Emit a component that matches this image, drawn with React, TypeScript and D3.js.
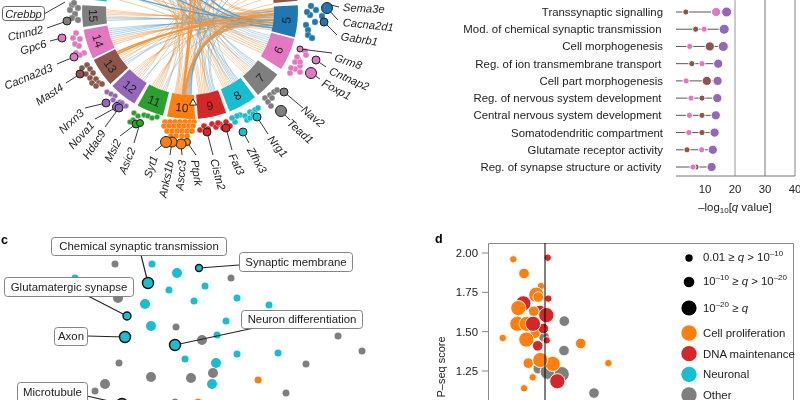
import * as d3 from "d3"

const FONT = "'Liberation Sans', Arial, sans-serif"
const INK = "#222"
const ORANGE = "#ff7f0e"
const RED = "#d62728"
const TEAL = "#17becf"
const GRAY = "#7f7f7f"
const PINK = "#e377c2"
const BROWN = "#8c564b"
const PURPLE = "#9467bd"
const GREEN = "#2ca02c"
const BLUE = "#1f77b4"
const LABEL_SIZE = 11.4

// panel b: modules, angle in degrees measured from straight down
const moduleIds = ["", "15", "14", "13", "12", "11", "10", "9", "8", "7", "6", "5", " "]
const moduleColors = [TEAL, GRAY, PINK, BROWN, PURPLE, GREEN, ORANGE, RED, TEAL, GRAY, PINK, BLUE, BROWN]
const moduleFrom = [-113, -93, -80, -63, -46, -29, -12.3, 4.2, 21.5, 39, 57.5, 76, 95.5]
const moduleTo = [-96.5, -81.5, -64, -47.5, -31, -14.5, 2.7, 19.5, 37, 54, 75, 93, 110]

// links: module, colour kind, stroke width, target angles
const linkBundles: [string, string, number, number[]][] = [
  ["15", "o", 0.55, [80, 84, 88, 91, 78]],
  ["15", "b", 0.55, [82, 86, 90]],
  ["14", "b", 0.6, [79, 83, 87, 90, 85]],
  ["14", "o", 0.7, [77, 81, 88, 92]],
  ["13", "o", 1.6, [84, 88]],
  ["13", "o", 0.55, [79, 120, 90, 150]],
  ["13", "b", 0.5, [82, 86, 130]],
  ["12", "o", 0.6, [80, 100, 125, 140, 160, 175]],
  ["12", "b", 0.5, [88, 150]],
  ["11", "o", 0.6, [105, 130, 150, 165, 178, 195]],
  ["11", "b", 0.5, [84, 140, 185]],
  ["10", "o", 0.6, [-150, -165, 215, 195, 160, 135, 110, 92]],
  ["10", "o", 1.7, [178, 170, 82, 88]],
  ["10", "b", 0.8, [80, 84, 87, 90, 120, 150]],
  ["9", "o", 0.6, [-130, -150, 200, 165, 145, 95, 170]],
  ["9", "b", 0.6, [210, 185, 175, 130, 86]],
  ["8", "o", 0.55, [-125, -145, -165, 190, 160, 205]],
  ["8", "b", 0.6, [-140, -170, 200, 180, 150, 215]],
  ["7", "o", 0.55, [-115, -135, -155, -175, 200]],
  ["7", "b", 0.55, [-125, -145, -165, 195, 215]],
  ["6", "o", 0.7, [-100, -112, -130, -150, 210]],
  ["6", "b", 0.55, [-105, -120, -140, -160, 195]],
  ["5", "b", 1.4, [-125, -150, 190, -105]],
  ["5", "o", 0.8, [-110, -135, 170, 150]],
]

// gene dots around each module, read as picture positions
const geneDotGroups: [string, number, [number, number][]][] = [
  [GRAY, 3.2, [[72, 5], [70, 10], [78, 8], [75, 14], [72, 18], [78, 20], [74, 3]]],
  [PINK, 3, [[76, 33], [73, 38], [80, 39], [75, 44], [79, 46], [84, 53], [80, 55], [76, 53]]],
  [BROWN, 3, [[87, 65], [82, 68], [90, 69], [86, 74], [93, 73], [90, 78], [96, 79], [92, 83], [99, 83], [96, 86], [102, 84]]],
  [PURPLE, 2.8, [[107, 92], [111, 94], [115, 96], [113, 100], [118, 103], [120, 102], [123, 106], [126, 106], [122, 103]]],
  [GREEN, 2.8, [[134, 113], [138, 116], [144, 115], [148, 116], [152, 118], [157, 117], [133, 120], [130, 122]]],
  [ORANGE, 3, [
    [165, 122], [170, 122], [175, 122], [180, 122], [185, 122], [190, 122], [194, 122],
    [164, 126], [169, 126], [174, 126], [179, 126], [184, 126], [189, 126], [193, 126],
    [167, 131], [172, 131], [177, 131], [182, 131], [187, 131], [192, 131],
    [171, 136], [176, 136], [182, 136], [187, 136],
  ]],
  [RED, 3, [[200, 130], [204, 126], [208, 129], [212, 124], [216, 127], [220, 124], [223, 128], [227, 124], [230, 126], [226, 122], [218, 123]]],
  [TEAL, 3, [[235, 122], [240, 115], [245, 116], [250, 112], [255, 110], [258, 108], [247, 120], [237, 116], [250, 118], [253, 114], [232, 118]]],
  [GRAY, 3, [[265, 98], [270, 95], [274, 92], [268, 102], [272, 98], [277, 90], [271, 106]]],
  [PINK, 3, [[298, 59], [305, 51], [306, 55], [297, 57], [295, 62], [300, 66], [295, 69], [290, 73], [300, 72], [291, 68], [300, 62]]],
  [BLUE, 3.2, [[310, 15], [316, 10], [306, 25], [308, 30], [315, 22], [308, 35], [312, 38], [311, 6], [307, 12], [322, 16]]],
]

// named genes: label, colour, dot x, dot y, dot radius, leader end x, y, text x, y, rotation
const namedGenes: [string, string, number, number, number, number, number, number, number, number][] = [
  ["Ctnnd2", GRAY, 67, 21, 4, 47, 28, 43, 29, -13],
  ["Gpc6", PINK, 62, 38, 4, 50, 41, 46, 43, -17],
  ["Cacna2d3", PINK, 74, 57, 4, 57, 64, 52, 67, -22],
  ["Mast4", BROWN, 80, 74, 4, 66, 83, 62, 86, -33],
  ["Nrxn3", PURPLE, 106, 103, 4, 85, 108, 82, 111, -43],
  ["Nova1", PURPLE, 117, 107, 4.5, 95, 119, 92, 123, -48],
  ["Hdac9", PURPLE, 119, 108, 4, 105, 127, 103, 131, -56],
  ["Msi2", GREEN, 136, 124, 4, 120, 136, 118, 140, -63],
  ["Asic2", GREEN, 140, 123, 3.5, 134, 143, 132, 148, -68],
  ["Ptprk", ORANGE, 187, 142, 3.5, 196, 155, 195, 160, 82],
  ["Ascc3", ORANGE, 181, 144, 5, 182, 155, 182, 160, -85],
  ["Anks1b", ORANGE, 172, 142, 5, 170, 155, 170, 161, -78],
  ["Syt1", ORANGE, 166, 142, 5.5, 155, 151, 154, 156, -72],
  ["Cistn2", RED, 207, 132, 4, 213, 155, 214, 159, 75],
  ["Fat3", RED, 226, 128, 4, 232, 150, 232, 154, 65],
  ["Zfhx3", TEAL, 243, 132, 4, 249, 143, 250, 148, 60],
  ["Nrg1", TEAL, 257, 117, 4, 268, 134, 270, 137, 50],
  ["Tead1", GRAY, 281, 111, 5.5, 290, 120, 289, 121, 42],
  ["Nav2", GRAY, 284, 92, 4, 303, 108, 303, 108, 40],
  ["Foxp1", PINK, 311, 73, 5.5, 320, 79, 323, 82, 28],
  ["Cntnap2", PINK, 316, 60, 4, 326, 67, 330, 70, 24],
  ["Grm8", PINK, 300, 49, 3, 332, 53, 335, 57, 18],
  ["Gabrb1", BLUE, 324, 22, 4, 337, 35, 341, 36, 9],
  ["Cacna2d1", BLUE, 327, 8, 5.5, 338, 20, 343, 22, 6],
]

// panel top right: enrichment rows
const termLabels = [
  "Transsynaptic signalling",
  "Mod. of chemical synaptic transmission",
  "Cell morphogenesis",
  "Reg. of ion transmembrane transport",
  "Cell part morphogenesis",
  "Reg. of nervous system development",
  "Central nervous system development",
  "Somatodendritic compartment",
  "Glutamate receptor activity",
  "Reg. of synapse structure or activity",
]
const brownValues = [3.6, 6.9, 11.6, 5.6, 10.6, 9, 9, 9, 4, 7]
const pinkValues = [13.7, 9.7, 4.9, 9, 3.7, 5.3, 4.8, 4.6, 8.9, 6]
const purpleValues = [17.2, 16.4, 16.1, 14.4, 14.2, 14.1, 13.6, 13.2, 12.6, 12.2]
const qTicks = [10, 20, 30, 40]

// panel c: term map
const mapGray = [[115, 264, 0], [118, 298, 1], [176, 327, 0], [119, 363, 0], [151, 377, 1], [191, 378, 1], [105, 384, 1], [95, 391, 0], [231, 278, 0], [338, 336, 0], [362, 351, 0], [306, 364, 0], [286, 393, 0], [213, 373, 1], [202, 340, 1], [175, 402, 0], [73, 402, 0]]
const mapTeal = [[152, 264, 0], [177, 273, 1], [169, 290, 0], [194, 301, 0], [145, 304, 1], [151, 326, 1], [75, 278, 0], [185, 359, 0], [205, 286, 0], [237, 298, 0], [269, 305, 0], [226, 321, 0], [217, 335, 0], [237, 354, 0], [278, 353, 0], [216, 363, 1], [212, 384, 1]]
const mapOrange = [[258, 380, 0], [198, 402, 0]]
const mapLabels = ["Chemical synaptic transmission", "Glutamatergic synapse", "Axon", "Neuron differentiation", "Synaptic membrane", "Microtubule"]
const mapLabelBox = [[51, 237, 175, 18], [4, 277, 129, 19], [54, 327, 33, 18], [241, 310, 121, 18], [239, 252, 113, 19], [17, 382, 70, 24]]
const mapLabelDot = [[148, 283, 5.5, TEAL], [127, 316, 4, TEAL], [125, 337, 5.5, TEAL], [175, 345, 5.5, TEAL], [199, 268, 3.5, TEAL], [122, 404, 5.5, GRAY]]
const mapLabelLeader = [[141, 255], [88, 296], [87, 336], [254, 328], [239, 265], [87, 396]]

// panel d: score points [x, score, size class, colour]
const seqPoints: [number, number, number, string][] = [
  [-0.067, 1.265, 1, GRAY], [0.027, 1.245, 2, GRAY], [0.167, 1.23, 2, GRAY], [0.193, 1.567, 1, GRAY], [-0.01, 1.467, 1, GRAY], [0.19, 1.38, 1, GRAY], [0.49, 1.11, 1, GRAY],
  [-0.317, 1.96, 0, ORANGE], [0.027, 1.97, 0, RED], [-0.21, 1.87, 1, ORANGE], [-0.04, 1.79, 0, ORANGE], [0.033, 1.71, 0, RED],
  [-0.217, 1.68, 2, RED], [-0.087, 1.735, 2, ORANGE], [-0.067, 1.72, 1, ORANGE], [-0.05, 1.635, 1, RED], [-0.277, 1.55, 2, ORANGE], [-0.267, 1.65, 2, ORANGE],
  [-0.113, 1.63, 1, ORANGE], [-0.183, 1.55, 2, ORANGE], [-0.1, 1.49, 1, ORANGE], [-0.017, 1.52, 1, RED], [-0.12, 1.55, 2, RED], [0.013, 1.605, 2, RED],
  [-0.187, 1.45, 2, ORANGE], [0.017, 1.445, 0, RED], [-0.073, 1.41, 1, RED], [-0.423, 1.46, 0, ORANGE], [0.357, 1.425, 1, ORANGE], [0.633, 1.3, 0, ORANGE],
  [-0.167, 1.3, 1, ORANGE], [0.077, 1.295, 2, ORANGE], [-0.047, 1.32, 2, ORANGE], [0.123, 1.185, 2, RED], [-0.123, 1.21, 0, ORANGE], [-0.21, 1.14, 0, ORANGE],
]
const scoreTicks = [2, 1.75, 1.5, 1.25]
const categoryNames = ["Cell proliferation", "DNA maintenance", "Neuronal", "Other"]
const categoryColors = [ORANGE, RED, TEAL, GRAY]
const sizeRadius = [3.7, 5.3, 7.6]

const cx = 190
const cy = 11
const rad = (deg: number) => (deg * Math.PI) / 180
const polar = (deg: number, r: number): [number, number] => [cx + r * Math.sin(rad(deg)), cy + r * Math.cos(rad(deg))]

const arc = d3.arc<{ from: number; to: number }>()
  .innerRadius(84)
  .outerRadius(108)
  .startAngle((d) => rad(180 - d.from))
  .endAngle((d) => rad(180 - d.to))

function linkPath(sourceDeg: number, targetDeg: number) {
  const [x0, y0] = polar(sourceDeg, 84)
  const [x1, y1] = polar(targetDeg, 84)
  const p = d3.path()
  p.moveTo(x0, y0)
  p.quadraticCurveTo(cx + 2, cy + 8, x1, y1)
  return p.toString()
}

export default function App() {
  const xQ = d3.scaleLinear().domain([0, 40]).range([675, 795])
  const yRow = d3.scalePoint<string>().domain(termLabels).range([12, 167])
  const rQ = d3.scaleThreshold<number, number>().domain([10, 15]).range([3.1, 4.6, 5])
  const xSeq = d3.scaleLinear().domain([0, 1]).range([545, 645])
  const ySeq = d3.scaleLinear().domain([2, 1.25]).range([253, 371])

  const modulesLinks = moduleIds.flatMap((id) => {
    const bundles = linkBundles.filter((b) => b[0] === id)
    const total = d3.sum(bundles, (b) => b[3].length)
    const i = moduleIds.indexOf(id)
    const from = moduleFrom[i] + 1.5
    const to = moduleTo[i] - 1.5
    let n = 0
    return bundles.flatMap((b) =>
      b[3].map((target) => {
        n += 1
        return { d: linkPath(from + ((to - from) * (n - 0.5)) / total, target), kind: b[1], width: b[2] }
      })
    )
  })
  const sortedLinks = d3.sort(modulesLinks, (l) => l.width)
  const moduleArcs = moduleIds.map((_, i) => ({ from: moduleFrom[i], to: moduleTo[i] }))

  const txt = { fontFamily: FONT, fill: INK }

  return (
    <svg width={800} height={400} style={{ position: "absolute", left: 0, top: 0, background: "#fff" }}>
      {/* panel b network */}
      <g fill="none">
        {sortedLinks.map((l, i) => (
          <path key={i} d={l.d} stroke={l.kind === "o" ? "#f0943a" : "#5a9cc5"} strokeWidth={l.width} strokeOpacity={l.width > 1.2 ? 0.95 : 0.75} />
        ))}
      </g>
      {moduleArcs.map((m, i) => (
        <path key={i} d={arc(m) ?? ""} transform={`translate(${cx},${cy})`} fill={moduleColors[i]} />
      ))}
      {moduleIds.map((id, i) => {
        if (!id.trim()) return null
        const mid = (moduleFrom[i] + moduleTo[i]) / 2
        const [x, y] = polar(mid, 97)
        return (
          <text key={id} transform={`translate(${x},${y}) rotate(${-mid})`} textAnchor="middle" dominantBaseline="central" fontSize={12} {...txt}>{id}</text>
        )
      })}
      <path d={d3.symbol(d3.symbolTriangle, 22)() ?? ""} transform="translate(193,103)" fill="#fff" stroke="#111" strokeWidth={0.9} />
      {geneDotGroups.map((g, i) => (
        <g key={i} fill={g[0]} stroke="#fff" strokeOpacity={0.55} strokeWidth={0.6}>
          {g[2].map((p, j) => <circle key={j} cx={p[0]} cy={p[1]} r={g[1]} />)}
        </g>
      ))}
      {namedGenes.map((g) => (
        <g key={g[0]}>
          <line x1={g[2]} y1={g[3]} x2={g[5]} y2={g[6]} stroke="#222" strokeWidth={0.9} />
          <circle cx={g[2]} cy={g[3]} r={g[4]} fill={g[1]} stroke="#222" strokeWidth={1} />
          <text
            transform={`translate(${g[7]},${g[8]}) rotate(${g[9]})`}
            textAnchor={g[9] < 0 ? "end" : "start"}
            dominantBaseline="central"
            fontSize={11.2}
            fontStyle="italic"
            {...txt}
          >{g[0]}</text>
        </g>
      ))}
      <line x1={331} y1={5} x2={339} y2={7} stroke="#222" strokeWidth={0.9} />
      <text transform="translate(343,7) rotate(3)" dominantBaseline="central" fontSize={11.2} fontStyle="italic" {...txt}>Sema3e</text>
      <line x1={44} y1={14} x2={65} y2={2} stroke="#222" strokeWidth={0.9} />
      <rect x={2.5} y={6.5} width={42} height={14} rx={3} fill="#fff" stroke="#555" strokeWidth={0.9} />
      <text x={23.5} y={13.5} textAnchor="middle" dominantBaseline="central" fontSize={11.2} fontStyle="italic" {...txt}>Crebbp</text>

      {/* enrichment panel */}
      <line x1={xQ(20)} x2={xQ(20)} y1={0} y2={176} stroke="#bdbdbd" strokeWidth={1.6} />
      <line x1={xQ(30)} x2={xQ(30)} y1={0} y2={176} stroke="#777" strokeWidth={1} />
      <line x1={xQ(40)} x2={xQ(40)} y1={0} y2={176} stroke="#999" strokeWidth={1.2} />
      <line x1={676} x2={795} y1={176} y2={176} stroke="#777" strokeWidth={1} />
      {qTicks.map((t) => (
        <text key={t} x={xQ(t)} y={189} textAnchor="middle" dominantBaseline="central" fontSize={LABEL_SIZE} {...txt}>{t}</text>
      ))}
      <text x={735} y={207} textAnchor="middle" dominantBaseline="central" fontSize={LABEL_SIZE} {...txt}>
        –log<tspan fontSize={8} dy={3}>10</tspan><tspan dy={-3}>[</tspan><tspan fontStyle="italic">q</tspan> value]
      </text>
      {termLabels.map((label, i) => {
        const y = yRow(label) ?? 0
        const marks = [
          { v: brownValues[i], c: BROWN },
          { v: pinkValues[i], c: PINK },
          { v: purpleValues[i], c: PURPLE },
        ]
        return (
          <g key={label}>
            <text x={label.startsWith("Reg.") || label.startsWith("Mod.") || label.startsWith("Central") ? 661.5 : 663} y={y} textAnchor="end" dominantBaseline="central" fontSize={LABEL_SIZE} {...txt}>{label}</text>
            <line x1={676} x2={xQ(purpleValues[i])} y1={y} y2={y} stroke="#444" strokeWidth={0.9} />
            {marks.map((m) => (
              <circle key={m.c} cx={xQ(m.v)} cy={y} r={rQ(m.v)} fill={m.c} stroke="#fff" strokeWidth={1} />
            ))}
          </g>
        )
      })}

      {/* panel c */}
      <text x={1} y={240} dominantBaseline="central" fontSize={12.5} fontWeight="bold" fill="#000" fontFamily={FONT}>c</text>
      {mapGray.map((p, i) => <circle key={i} cx={p[0]} cy={p[1]} r={p[2] ? 5 : 3.5} fill={GRAY} />)}
      {mapTeal.map((p, i) => <circle key={i} cx={p[0]} cy={p[1]} r={p[2] ? 5 : 3.5} fill={TEAL} />)}
      {mapOrange.map((p, i) => <circle key={i} cx={p[0]} cy={p[1]} r={3.5} fill={ORANGE} />)}
      {mapLabels.map((label, i) => (
        <g key={label}>
          <line x1={mapLabelLeader[i][0]} y1={mapLabelLeader[i][1]} x2={mapLabelDot[i][0] as number} y2={mapLabelDot[i][1] as number} stroke="#222" strokeWidth={1.1} />
          <circle cx={mapLabelDot[i][0] as number} cy={mapLabelDot[i][1] as number} r={mapLabelDot[i][2] as number} fill={mapLabelDot[i][3] as string} stroke="#111" strokeWidth={1.4} />
          <rect x={mapLabelBox[i][0] + 0.5} y={mapLabelBox[i][1] + 0.5} width={mapLabelBox[i][2]} height={mapLabelBox[i][3]} rx={3} fill="#fff" stroke="#777" strokeWidth={0.9} />
          <text x={mapLabelBox[i][0] + mapLabelBox[i][2] / 2 + 0.5} y={mapLabelBox[i][1] + (i === 5 ? 9.5 : mapLabelBox[i][3] / 2)} textAnchor="middle" dominantBaseline="central" fontSize={LABEL_SIZE} {...txt}>{label}</text>
        </g>
      ))}

      {/* panel d */}
      <text x={435} y={239} dominantBaseline="central" fontSize={12.5} fontWeight="bold" fill="#000" fontFamily={FONT}>d</text>
      <path d="M488.5,400V243.5H793.5V400" fill="none" stroke="#888" strokeWidth={1} />
      {scoreTicks.map((t) => (
        <g key={t}>
          <line x1={482} x2={488} y1={ySeq(t)} y2={ySeq(t)} stroke="#777" strokeWidth={0.9} />
          <text x={478} y={ySeq(t)} textAnchor="end" dominantBaseline="central" fontSize={LABEL_SIZE} {...txt}>{t.toFixed(2)}</text>
        </g>
      ))}
      <text transform="translate(441,367) rotate(-90)" textAnchor="middle" dominantBaseline="central" fontSize={11} {...txt}>P–seq score</text>
      {seqPoints.map((p, i) => (
        <circle key={i} cx={xSeq(p[0])} cy={ySeq(p[1])} r={sizeRadius[p[2]]} fill={p[3]} stroke="#fff" strokeWidth={0.9} />
      ))}
      <line x1={545} x2={545} y1={243} y2={400} stroke="#555" strokeWidth={1.5} style={{ mixBlendMode: "multiply" }} />

      <circle cx={689} cy={258} r={sizeRadius[0]} fill="#000" />
      <circle cx={689} cy={282} r={sizeRadius[1]} fill="#000" />
      <circle cx={689} cy={308} r={sizeRadius[2]} fill="#000" />
      <text x={703} y={257} dominantBaseline="central" fontSize={LABEL_SIZE} {...txt}>
        0.01 ≥ <tspan fontStyle="italic">q</tspan> &gt; 10<tspan fontSize={8} dy={-4}>–10</tspan>
      </text>
      <text x={703} y={281} dominantBaseline="central" fontSize={LABEL_SIZE} {...txt}>
        10<tspan fontSize={8} dy={-4}>–10</tspan><tspan dy={4}> ≥ </tspan><tspan fontStyle="italic">q</tspan> &gt; 10<tspan fontSize={8} dy={-4}>–20</tspan>
      </text>
      <text x={703} y={308} dominantBaseline="central" fontSize={LABEL_SIZE} {...txt}>
        10<tspan fontSize={8} dy={-4}>–20</tspan><tspan dy={4}> ≥ </tspan><tspan fontStyle="italic">q</tspan>
      </text>
      {categoryNames.map((name, i) => {
        const y = d3.scalePoint<string>().domain(categoryNames).range([333, 395])(name) ?? 0
        return (
          <g key={name}>
            <circle cx={689} cy={y} r={7.7} fill={categoryColors[i]} />
            <text x={703} y={y} dominantBaseline="central" fontSize={LABEL_SIZE} {...txt}>{name}</text>
          </g>
        )
      })}
    </svg>
  )
}
